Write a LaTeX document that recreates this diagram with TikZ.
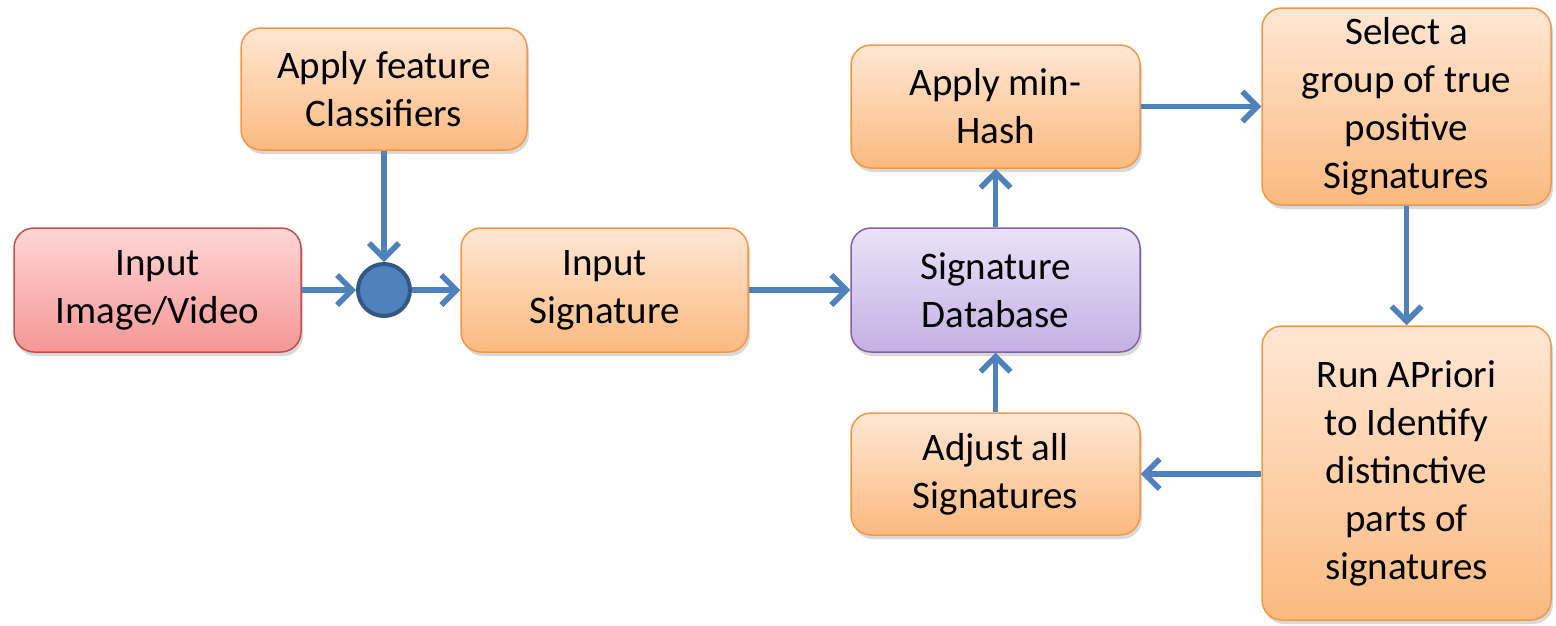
\documentclass[tikz,border=0pt]{standalone}
\usepackage{fontspec}
\setmainfont{Carlito}
\usetikzlibrary{arrows.meta,shadows}
\definecolor{arrowblue}{RGB}{79,129,189}
\definecolor{circborder}{RGB}{52,88,132}
\definecolor{orbord}{RGB}{247,150,70}
\definecolor{ortop}{RGB}{255,231,212}
\definecolor{orbot}{RGB}{251,186,128}
\definecolor{redbord}{RGB}{192,80,77}
\definecolor{redtop}{RGB}{255,214,214}
\definecolor{redbot}{RGB}{244,150,150}
\definecolor{purbord}{RGB}{128,100,162}
\definecolor{purtop}{RGB}{234,226,248}
\definecolor{purbot}{RGB}{196,176,228}
\tikzset{
  box/.style={rectangle, rounded corners=20pt, line width=1.5pt, align=center,
    font=\fontsize{39}{48}\selectfont, inner sep=0pt,
    drop shadow={shadow xshift=2pt, shadow yshift=-4pt, opacity=0.25, fill=black!60}},
  orbox/.style={box, draw=orbord, top color=ortop, bottom color=orbot},
  redbox/.style={box, draw=redbord, top color=redtop, bottom color=redbot},
  purbox/.style={box, draw=purbord, top color=purtop, bottom color=purbot},
  conn/.style={draw=arrowblue, line width=5.5pt, -{Straight Barb[length=15pt,width=30pt,line width=5.5pt]}},
}
\begin{document}
\begin{tikzpicture}[x=1pt,y=-1pt]
\useasboundingbox (0,0) rectangle (1556,625);
\node[redbox, minimum width=287pt, minimum height=124pt] (inp) at (157.5,290) {Input\\Image/Video};
\node[orbox, minimum width=286pt, minimum height=122pt] (cls) at (384,89) {Apply feature\\Classifiers};
\node[circle, draw=circborder, fill=arrowblue, line width=4pt, minimum size=52pt, inner sep=0pt] (dot) at (384,290) {};
\node[orbox, minimum width=287pt, minimum height=124pt] (isig) at (604.5,290) {Input\\Signature};
\node[purbox, minimum width=289pt, minimum height=124pt] (db) at (995.5,290) {Signature\\Database};
\node[orbox, minimum width=289pt, minimum height=123pt] (mh) at (995.5,106.5) {Apply min-\\Hash};
\node[orbox, minimum width=289pt, minimum height=197pt] (sel) at (1406.5,106.5) {Select a\\group of true\\positive\\Signatures};
\node[orbox, minimum width=289pt, minimum height=294pt] (apr) at (1406.5,473) {Run APriori\\to Identify\\distinctive\\parts of\\signatures};
\node[orbox, minimum width=289pt, minimum height=122pt] (adj) at (995.5,474) {Adjust all\\Signatures};

\draw[conn] (cls.south) -- (dot.north);
\draw[conn] (inp.east) -- (dot.west);
\draw[conn] (dot.east) -- (isig.west |- dot.east);
\draw[conn] (isig.east) -- (db.west);
\draw[conn] (db.north) -- (mh.south);
\draw[conn] (mh.east) -- (sel.west |- mh.east);
\draw[conn] (sel.south) -- (apr.north);
\draw[conn] (apr.west |- adj.east) -- (adj.east);
\draw[conn] (adj.north) -- (db.south);
\end{tikzpicture}
\end{document}
